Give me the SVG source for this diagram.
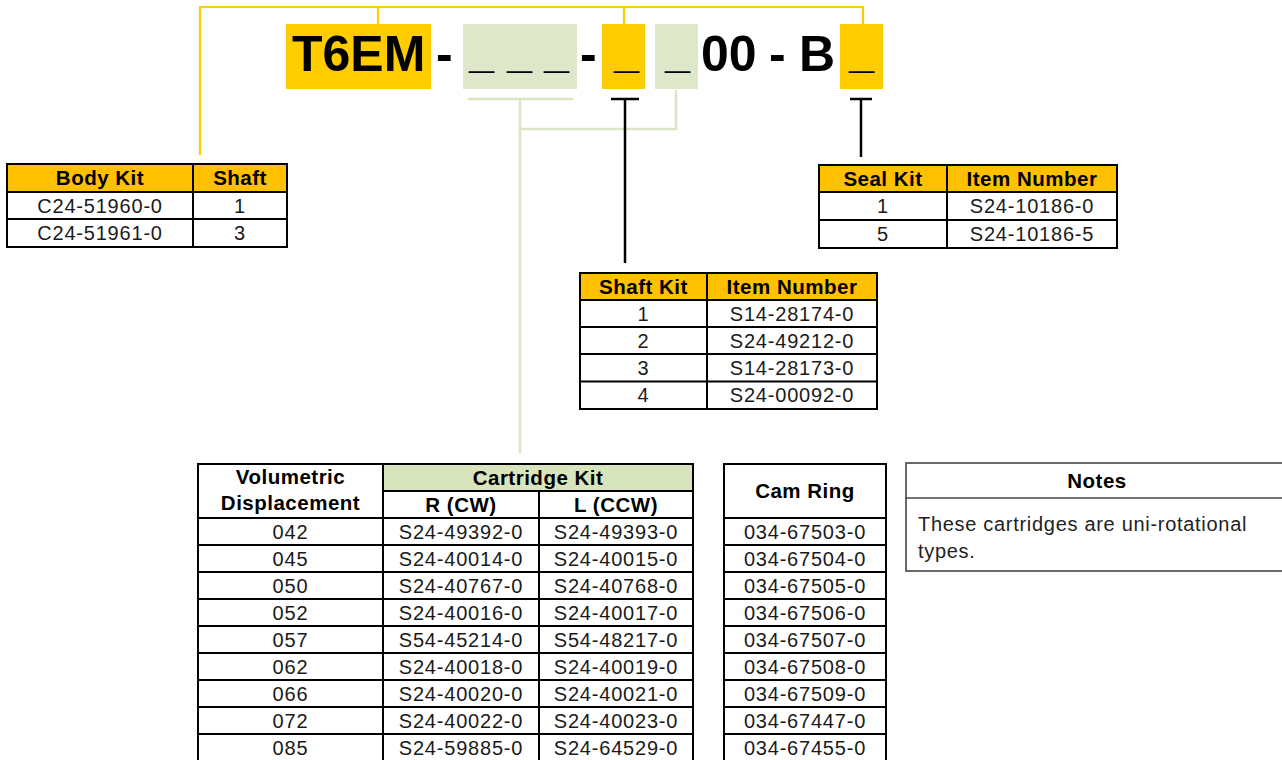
<svg xmlns="http://www.w3.org/2000/svg" width="1282" height="760" viewBox="0 0 1282 760">
<style>
.big{font-family:"Liberation Sans",Arial,sans-serif;font-weight:bold;font-size:50px;fill:#000}
.us{font-family:"Liberation Sans",Arial,sans-serif;font-weight:bold;font-size:45px;fill:#000}
.hdr{font-family:"Liberation Sans",Arial,sans-serif;font-weight:bold;font-size:20.5px;letter-spacing:0.5px;text-anchor:middle;fill:#000}
.cell{font-family:"Liberation Sans",Arial,sans-serif;font-size:20px;letter-spacing:0.8px;text-anchor:middle;fill:#1a1a1a}
.note{font-family:"Liberation Sans",Arial,sans-serif;font-size:20px;letter-spacing:0.7px;fill:#222}
.grid{stroke:#000;stroke-width:2;fill:none}
.yl{stroke:#FFCC00;stroke-width:2.2;fill:none}
.gl{stroke:#D9E5C3;stroke-width:2.5;fill:none}
.bl{stroke:#000;stroke-width:2.5;fill:none}
.thdr{fill:#FFC000}
.yb{fill:#FFCC00}
.gb{fill:#DFE7CB}
</style>

<g id="connectors">
  <polyline class="yl" points="200,155 200,7 863,7 863,24"/>
  <line class="yl" x1="378" y1="7" x2="378" y2="24"/>
  <line class="yl" x1="624" y1="7" x2="624" y2="24"/>
  <line class="gl" x1="468" y1="99" x2="573" y2="99"/>
  <line class="gl" x1="520" y1="99" x2="520" y2="453"/>
  <polyline class="gl" points="520,129 676,129 676,90"/>
  <line class="bl" x1="611" y1="99" x2="639" y2="99"/>
  <line class="bl" x1="625" y1="99" x2="625" y2="263"/>
  <line class="bl" x1="850" y1="99" x2="872" y2="99"/>
  <line class="bl" x1="861" y1="99" x2="861" y2="157"/>
</g>

<g id="part-number">
  <rect class="yb" x="286" y="24" width="145" height="65"/>
  <rect class="gb" x="463" y="24" width="114" height="65"/>
  <rect class="yb" x="602" y="24" width="43" height="65"/>
  <rect class="gb" x="655" y="24" width="43" height="65"/>
  <rect class="yb" x="840" y="24" width="43" height="65"/>
  <text class="big" x="292" y="71">T6EM</text>
  <text class="big" x="436" y="71">-</text>
  <text class="us" x="469" y="68">_</text>
  <text class="us" x="507" y="68">_</text>
  <text class="us" x="544" y="68">_</text>
  <text class="big" x="580" y="71">-</text>
  <text class="us" x="614" y="68">_</text>
  <text class="us" x="665" y="68">_</text>
  <text class="big" x="701" y="71">00</text>
  <text class="big" x="769" y="71">-</text>
  <text class="big" x="799" y="71">B</text>
  <text class="us" x="849" y="68">_</text>
</g>

<g id="body-kit-table">
  <rect class="thdr" x="7" y="164" width="280" height="28"/>
  <rect class="grid" x="7" y="164" width="280" height="83"/>
  <line class="grid" x1="7" y1="192" x2="287" y2="192"/>
  <line class="grid" x1="7" y1="219" x2="287" y2="219"/>
  <line class="grid" x1="193" y1="164" x2="193" y2="247"/>
  <text class="hdr" x="100" y="185">Body Kit</text>
  <text class="hdr" x="240" y="185">Shaft</text>
  <text class="cell" x="100" y="212.5">C24-51960-0</text>
  <text class="cell" x="240" y="212.5">1</text>
  <text class="cell" x="100" y="240">C24-51961-0</text>
  <text class="cell" x="240" y="240">3</text>
</g>

<g id="seal-kit-table">
  <rect class="thdr" x="819" y="165" width="298" height="27"/>
  <rect class="grid" x="819" y="165" width="298" height="83"/>
  <line class="grid" x1="819" y1="192" x2="1117" y2="192"/>
  <line class="grid" x1="819" y1="220" x2="1117" y2="220"/>
  <line class="grid" x1="947" y1="165" x2="947" y2="248"/>
  <text class="hdr" x="883" y="185.5">Seal Kit</text>
  <text class="hdr" x="1032" y="185.5">Item Number</text>
  <text class="cell" x="883" y="213">1</text>
  <text class="cell" x="1032" y="213">S24-10186-0</text>
  <text class="cell" x="883" y="241">5</text>
  <text class="cell" x="1032" y="241">S24-10186-5</text>
</g>

<g id="shaft-kit-table">
  <rect class="thdr" x="580" y="273" width="297" height="27"/>
  <rect class="grid" x="580" y="273" width="297" height="136"/>
  <line class="grid" x1="580" y1="300" x2="877" y2="300"/>
  <line class="grid" x1="580" y1="327" x2="877" y2="327"/>
  <line class="grid" x1="580" y1="354" x2="877" y2="354"/>
  <line class="grid" x1="580" y1="381.5" x2="877" y2="381.5"/>
  <line class="grid" x1="707" y1="273" x2="707" y2="409"/>
  <text class="hdr" x="643.5" y="293.5">Shaft Kit</text>
  <text class="hdr" x="792" y="293.5">Item Number</text>
  <text class="cell" x="643.5" y="320.5">1</text>
  <text class="cell" x="792" y="320.5">S14-28174-0</text>
  <text class="cell" x="643.5" y="347.5">2</text>
  <text class="cell" x="792" y="347.5">S24-49212-0</text>
  <text class="cell" x="643.5" y="375">3</text>
  <text class="cell" x="792" y="375">S14-28173-0</text>
  <text class="cell" x="643.5" y="402">4</text>
  <text class="cell" x="792" y="402">S24-00092-0</text>
</g>

<g id="cartridge-table">
  <rect x="383" y="464" width="310" height="27" fill="#D8E4BC"/>
  <rect class="grid" x="198" y="464" width="495" height="298"/>
  <line class="grid" x1="383" y1="491" x2="693" y2="491"/>
  <line class="grid" x1="198" y1="518" x2="693" y2="518"/>
  <line class="grid" x1="198" y1="545" x2="693" y2="545"/>
  <line class="grid" x1="198" y1="572" x2="693" y2="572"/>
  <line class="grid" x1="198" y1="599" x2="693" y2="599"/>
  <line class="grid" x1="198" y1="626" x2="693" y2="626"/>
  <line class="grid" x1="198" y1="653" x2="693" y2="653"/>
  <line class="grid" x1="198" y1="680" x2="693" y2="680"/>
  <line class="grid" x1="198" y1="707" x2="693" y2="707"/>
  <line class="grid" x1="198" y1="734" x2="693" y2="734"/>
  <line class="grid" x1="383" y1="464" x2="383" y2="762"/>
  <line class="grid" x1="539" y1="491" x2="539" y2="762"/>
  <text class="hdr" x="290.5" y="484">Volumetric</text>
  <text class="hdr" x="290.5" y="510">Displacement</text>
  <text class="hdr" x="538" y="484.5">Cartridge Kit</text>
  <text class="hdr" x="461" y="511.5">R (CW)</text>
  <text class="hdr" x="616" y="511.5">L (CCW)</text>
  <text class="cell" x="290.5" y="538.5">042</text><text class="cell" x="461" y="538.5">S24-49392-0</text><text class="cell" x="616" y="538.5">S24-49393-0</text>
  <text class="cell" x="290.5" y="565.5">045</text><text class="cell" x="461" y="565.5">S24-40014-0</text><text class="cell" x="616" y="565.5">S24-40015-0</text>
  <text class="cell" x="290.5" y="592.5">050</text><text class="cell" x="461" y="592.5">S24-40767-0</text><text class="cell" x="616" y="592.5">S24-40768-0</text>
  <text class="cell" x="290.5" y="619.5">052</text><text class="cell" x="461" y="619.5">S24-40016-0</text><text class="cell" x="616" y="619.5">S24-40017-0</text>
  <text class="cell" x="290.5" y="646.5">057</text><text class="cell" x="461" y="646.5">S54-45214-0</text><text class="cell" x="616" y="646.5">S54-48217-0</text>
  <text class="cell" x="290.5" y="673.5">062</text><text class="cell" x="461" y="673.5">S24-40018-0</text><text class="cell" x="616" y="673.5">S24-40019-0</text>
  <text class="cell" x="290.5" y="700.5">066</text><text class="cell" x="461" y="700.5">S24-40020-0</text><text class="cell" x="616" y="700.5">S24-40021-0</text>
  <text class="cell" x="290.5" y="727.5">072</text><text class="cell" x="461" y="727.5">S24-40022-0</text><text class="cell" x="616" y="727.5">S24-40023-0</text>
  <text class="cell" x="290.5" y="754.5">085</text><text class="cell" x="461" y="754.5">S24-59885-0</text><text class="cell" x="616" y="754.5">S24-64529-0</text>
</g>

<g id="cam-ring-table">
  <rect class="grid" x="724" y="464" width="162" height="298"/>
  <line class="grid" x1="724" y1="518" x2="886" y2="518"/>
  <line class="grid" x1="724" y1="545" x2="886" y2="545"/>
  <line class="grid" x1="724" y1="572" x2="886" y2="572"/>
  <line class="grid" x1="724" y1="599" x2="886" y2="599"/>
  <line class="grid" x1="724" y1="626" x2="886" y2="626"/>
  <line class="grid" x1="724" y1="653" x2="886" y2="653"/>
  <line class="grid" x1="724" y1="680" x2="886" y2="680"/>
  <line class="grid" x1="724" y1="707" x2="886" y2="707"/>
  <line class="grid" x1="724" y1="734" x2="886" y2="734"/>
  <text class="hdr" x="805" y="498">Cam Ring</text>
  <text class="cell" x="805" y="538.5">034-67503-0</text>
  <text class="cell" x="805" y="565.5">034-67504-0</text>
  <text class="cell" x="805" y="592.5">034-67505-0</text>
  <text class="cell" x="805" y="619.5">034-67506-0</text>
  <text class="cell" x="805" y="646.5">034-67507-0</text>
  <text class="cell" x="805" y="673.5">034-67508-0</text>
  <text class="cell" x="805" y="700.5">034-67509-0</text>
  <text class="cell" x="805" y="727.5">034-67447-0</text>
  <text class="cell" x="805" y="754.5">034-67455-0</text>
</g>

<g id="notes">
  <rect x="906" y="463" width="384" height="108" fill="#fff" stroke="#444" stroke-width="1.6"/>
  <line x1="906" y1="498" x2="1290" y2="498" stroke="#444" stroke-width="1.6"/>
  <text class="hdr" x="1097" y="488">Notes</text>
  <text class="note" x="918" y="531">These cartridges are uni-rotational</text>
  <text class="note" x="918" y="558">types.</text>
</g>
</svg>
